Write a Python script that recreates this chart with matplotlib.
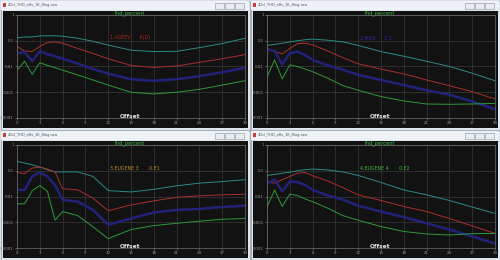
import matplotlib
matplotlib.use("Agg")
import matplotlib.pyplot as plt
from matplotlib.patches import Rectangle

# sample offsets shared by every trace
offset = [0, 1, 2, 3, 4, 5, 6, 8, 10, 12, 15, 18, 21, 24, 27, 30]

# window 1: 1.AGEEV
w1_cyan = [0.13, 0.14, 0.14, 0.155, 0.155, 0.155, 0.15, 0.125, 0.095, 0.068, 0.043, 0.038, 0.039, 0.054, 0.078, 0.125]
w1_red = [0.06, 0.04, 0.038, 0.06, 0.085, 0.09, 0.08, 0.05, 0.032, 0.02, 0.011, 0.0092, 0.0105, 0.0145, 0.02, 0.029]
w1_blue = [0.033, 0.036, 0.016, 0.04, 0.03, 0.025, 0.02, 0.013, 0.008, 0.0053, 0.0032, 0.0028, 0.0032, 0.0042, 0.006, 0.0088]
w1_green = [0.007, 0.016, 0.005, 0.014, 0.011, 0.009, 0.0072, 0.0047, 0.003, 0.0019, 0.001, 0.00086, 0.001, 0.0013, 0.0019, 0.0028]

# window 2: 2.MOS
w2_cyan = [0.066, 0.072, 0.08, 0.09, 0.1, 0.11, 0.116, 0.105, 0.09, 0.066, 0.038, 0.025, 0.016, 0.01, 0.0055, 0.0028]
w2_red = [0.052, 0.038, 0.031, 0.05, 0.077, 0.08, 0.07, 0.04, 0.022, 0.0127, 0.0079, 0.0052, 0.003, 0.0018, 0.00105, 0.00055]
w2_blue = [0.045, 0.04, 0.012, 0.033, 0.038, 0.028, 0.018, 0.011, 0.0075, 0.0047, 0.003, 0.0019, 0.0012, 0.0008, 0.00044, 0.00022]
w2_green = [0.0039, 0.018, 0.0033, 0.0116, 0.01, 0.008, 0.0063, 0.0035, 0.0018, 0.0012, 0.00068, 0.00046, 0.00035, 0.00034, 0.00035, 0.00037]

# window 3: 3.EUGENE 3
w3_cyan = [0.23, 0.2, 0.17, 0.14, 0.11, 0.09, 0.09, 0.09, 0.06, 0.017, 0.015, 0.019, 0.026, 0.033, 0.038, 0.045]
w3_red = [0.086, 0.077, 0.127, 0.14, 0.116, 0.09, 0.02, 0.018, 0.0086, 0.0028, 0.0047, 0.0068, 0.0093, 0.0106, 0.0116, 0.0123]
w3_blue = [0.018, 0.018, 0.06, 0.086, 0.06, 0.028, 0.0074, 0.0064, 0.003, 0.00079, 0.0014, 0.0024, 0.003, 0.0033, 0.0039, 0.0044]
w3_green = [0.0052, 0.0052, 0.0167, 0.0265, 0.016, 0.0012, 0.0026, 0.0018, 0.00066, 0.00023, 0.00052, 0.00074, 0.00091, 0.0011, 0.0013, 0.0014]

# window 4: 4.EUGENE 4
w4_cyan = [0.066, 0.072, 0.08, 0.088, 0.1, 0.11, 0.116, 0.108, 0.09, 0.066, 0.035, 0.018, 0.0116, 0.007, 0.0039, 0.0022]
w4_red = [0.036, 0.033, 0.045, 0.06, 0.08, 0.086, 0.064, 0.04, 0.022, 0.0116, 0.007, 0.0041, 0.0026, 0.0014, 0.00072, 0.00037]
w4_blue = [0.033, 0.045, 0.016, 0.038, 0.036, 0.028, 0.018, 0.011, 0.0075, 0.0044, 0.0026, 0.0016, 0.00091, 0.00052, 0.00028, 0.00015]
w4_green = [0.0039, 0.018, 0.0041, 0.0123, 0.011, 0.008, 0.0063, 0.0035, 0.0018, 0.0012, 0.00068, 0.00044, 0.00035, 0.00032, 0.00036, 0.00037]

labels = ["1.AGEEV      K(D)", "2.MOS      0.1", "3.EUGENE 3       0.E1", "4.EUGENE 4       0.E2"]
label_colors = ["#b02828", "#2a2aa8", "#c08a20", "#3cc03c"]
window_title = "4Ocl_THD_offs_1K_8log.raw"
yticks = [1, 0.1, 0.01, 0.001, 0.0001]
ytick_labels = ["1", "0.1", "0.01", "0.001", "0.0001"]
xticks = list(range(0, 31, 3))

windows = [
    (0, 0, w1_cyan, w1_red, w1_blue, w1_green),
    (250, 0, w2_cyan, w2_red, w2_blue, w2_green),
    (0, 130, w3_cyan, w3_red, w3_blue, w3_green),
    (250, 130, w4_cyan, w4_red, w4_blue, w4_green),
]

W, H = 500, 260
fig = plt.figure(figsize=(5, 2.6), dpi=100)
fig.patch.set_facecolor("#d6dde5")

# background layer in pixel coordinates for the window chrome
bg = fig.add_axes([0, 0, 1, 1], zorder=0)
bg.set_xlim(0, W)
bg.set_ylim(H, 0)
bg.axis("off")


def px_axes(x0, y0, x1, y1):
    return fig.add_axes([x0 / W, 1 - y1 / H, (x1 - x0) / W, (y1 - y0) / H], zorder=1)


for i, (wx, wy, cyan, red, blue, green) in enumerate(windows):
    # window frame and title bar
    bg.add_patch(Rectangle((wx + 0.5, wy + 0.5), 249, 129, facecolor="#dfe5ec",
                           edgecolor="#9aa4b0", lw=0.6))
    bg.add_patch(Rectangle((wx + 1, wy + 1), 248, 9, facecolor="#eef2f6", edgecolor="none"))
    bg.add_patch(Rectangle((wx + 2.5, wy + 3), 3.5, 3.5, facecolor="#c83c3c", edgecolor="none"))
    bg.text(wx + 8, wy + 5.2, window_title, fontsize=2.6, color="#505860", va="center")
    for k in range(3):
        bg.add_patch(Rectangle((wx + 215 + k * 10, wy + 3), 9, 6, facecolor="#e8ecf0",
                               edgecolor="#8a94a0", lw=0.4))
    # black plot pane
    bg.add_patch(Rectangle((wx + 3, wy + 11), 245, 117, facecolor="#121212", edgecolor="none"))

    ax = px_axes(wx + 17, wy + 15, wx + 245, wy + 118)
    ax.set_facecolor("#121212")
    ax.plot(offset, cyan, color="#2c8a86", lw=0.7)
    ax.plot(offset, red, color="#a8302c", lw=0.7)
    ax.plot(offset, blue, color="#22227a", lw=1.8)
    ax.plot(offset, green, color="#2f9a36", lw=0.7)
    ax.set_yscale("log")
    ax.set_xlim(0, 30)
    ax.set_ylim(1e-4, 1)
    ax.set_yticks(yticks)
    ax.set_yticklabels(ytick_labels)
    ax.minorticks_off()
    ax.set_xticks(xticks)
    ax.set_xticklabels([str(t) for t in xticks])
    ax.tick_params(colors="#9a9a9a", labelsize=2.8, length=1.5, width=0.4, pad=0.8)
    ax.grid(True, color="#3a3a3a", lw=0.5)
    for s in ax.spines.values():
        s.set_color("#707070")
        s.set_linewidth(0.5)

# overlay for texts drawn on top of the plot panes
top = fig.add_axes([0, 0, 1, 1], zorder=5)
top.set_xlim(0, W)
top.set_ylim(H, 0)
top.axis("off")
top.patch.set_alpha(0)

for i, (wx, wy, *_rest) in enumerate(windows):
    top.text(wx + 130, wy + 13, "thd_percent", fontsize=3.6, color="#3cc03c",
             ha="center", va="center")
    top.text(wx + 110, wy + 38, labels[i], fontsize=3.4, color=label_colors[i],
             ha="left", va="center")
    top.text(wx + 130, wy + 116, "Offset", fontsize=4.2, color="#e8e8e8",
             ha="center", va="center", fontweight="bold")

fig.savefig("out.png", dpi=100, facecolor=fig.get_facecolor())
